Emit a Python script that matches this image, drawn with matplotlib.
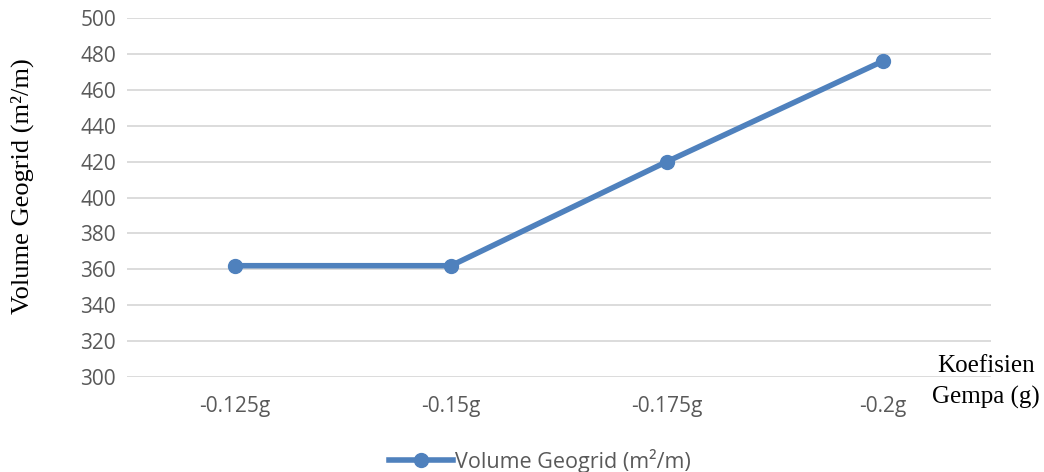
import matplotlib.pyplot as plt
from matplotlib.lines import Line2D

# seismic coefficient vs required geogrid volume
categories = ['-0.125g', '-0.15g', '-0.175g', '-0.2g']
volume = [362, 362, 420, 476]
yticks = list(range(300, 501, 20))

blue = '#4F81BD'
grid_gray = '#D9D9D9'
label_gray = '#595959'
sans = ['Open Sans', 'DejaVu Sans']
serif = ['Liberation Serif', 'DejaVu Serif']

fig = plt.figure(figsize=(10.44, 4.72), dpi=100)
ax = fig.add_axes([127 / 1044, 1 - 377 / 472, 864 / 1044, 359 / 472])

x = range(len(categories))
ax.plot(x, volume, color=blue, linewidth=4, marker='o', markersize=10,
        solid_capstyle='round', zorder=3)

ax.set_xlim(-0.5, len(categories) - 0.5)
ax.set_ylim(300, 500)
ax.set_yticks(yticks)
ax.set_xticks(list(x))
ax.set_xticklabels(categories)
ax.yaxis.grid(True, color=grid_gray, linewidth=1.3)
ax.set_axisbelow(True)
for s in ax.spines.values():
    s.set_visible(False)
ax.tick_params(length=0, labelsize=15, labelcolor=label_gray, pad=8)
ax.tick_params(axis='x', pad=14)
for t in ax.get_xticklabels() + ax.get_yticklabels():
    t.set_family(sans)

fig.text(22 / 1044, 1 - 186 / 472, 'Volume Geogrid (m²/m)', rotation=90,
         ha='center', va='center', fontsize=19, family=serif)
fig.text(986 / 1044, 1 - 382 / 472, 'Koefisien\nGempa (g)', ha='center',
         va='center', fontsize=18, family=serif, linespacing=1.45)

handle = Line2D([], [], color=blue, linewidth=4, marker='o', markersize=10)
fig.legend([handle], ['Volume Geogrid (m²/m)'], loc='center',
           bbox_to_anchor=(540 / 1044, 1 - 461 / 472), frameon=False,
           prop={'family': sans, 'size': 15.5}, labelcolor=label_gray,
           handlelength=3, handletextpad=0.1)

fig.savefig('out.png', dpi=100)
